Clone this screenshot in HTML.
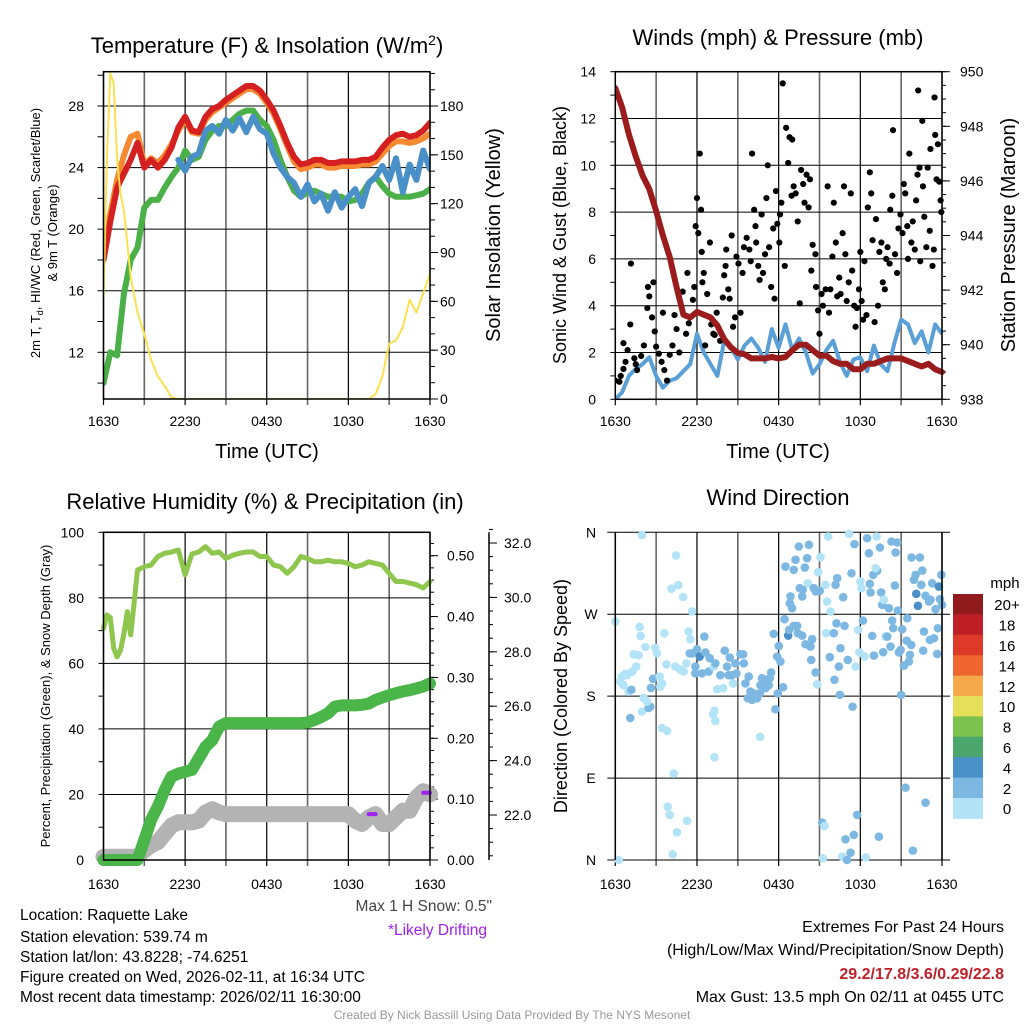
<!DOCTYPE html>
<html><head><meta charset="utf-8"><style>
html,body{margin:0;padding:0;background:#fff;}
svg{display:block;font-family:"Liberation Sans",Arial,sans-serif;}
</style></head><body>
<svg id="root" width="1024" height="1024" viewBox="0 0 1024 1024" xmlns="http://www.w3.org/2000/svg">
<g id="p1"></g>
<g id="p2"></g>
<g id="p3"></g>
<g id="p4"></g>
<g id="txt">
<text x="20" y="920" font-size="15.5">Location: Raquette Lake</text>
<text x="20" y="942" font-size="15.5">Station elevation: 539.74 m</text>
<text x="20" y="962" font-size="15.5">Station lat/lon: 43.8228; -74.6251</text>
<text x="20" y="982" font-size="15.5">Figure created on Wed, 2026-02-11, at 16:34 UTC</text>
<text x="20" y="1002" font-size="15.5">Most recent data timestamp: 2026/02/11 16:30:00</text>
<text x="492" y="911" font-size="15.5" fill="#444" text-anchor="end">Max 1 H Snow: 0.5"</text>
<text x="487" y="935" font-size="15.5" fill="#a020f0" text-anchor="end">*Likely Drifting</text>
<text x="1004" y="932" font-size="16" text-anchor="end">Extremes For Past 24 Hours</text>
<text x="1004" y="955" font-size="16" text-anchor="end">(High/Low/Max Wind/Precipitation/Snow Depth)</text>
<text x="1004" y="979" font-size="16" font-weight="bold" fill="#c0202a" text-anchor="end">29.2/17.8/3.6/0.29/22.8</text>
<text x="1004" y="1002" font-size="16" text-anchor="end">Max Gust: 13.5 mph On 02/11 at 0455 UTC</text>
<text x="512" y="1019" font-size="12" fill="#999" text-anchor="middle">Created By Nick Bassill Using Data Provided By The NYS Mesonet</text>
</g>
</svg>
<script>
// ---------- DATA ----------
const timeLabels = ["1630","2230","0430","1030","1630"];
const halfHours = [0,0.5,1,1.5,2,2.5,3,3.5,4,4.5,5,5.5,6,6.5,7,7.5,8,8.5,9,9.5,10,10.5,11,11.5,12,12.5,13,13.5,14,14.5,15,15.5,16,16.5,17,17.5,18,18.5,19,19.5,20,20.5,21,21.5,22,22.5,23,23.5,24];
const temp2m = [18,20.5,22.7,23.6,24.5,25.6,24,24.5,24,24.5,25.3,26.6,27.3,26.4,26.3,27.3,27.8,28,28.4,28.7,29,29.3,29.3,29,28.4,27.7,26.7,25.6,24.7,24.2,24.3,24.5,24.5,24.3,24.3,24.4,24.4,24.4,24.5,24.5,24.7,25.3,25.8,26.1,26.2,26,26.1,26.4,26.9];
const temp9m = [18.3,21,23.2,24.8,26,26.2,24.2,24.6,24.3,24.8,25.5,26.4,27.1,26.3,26.2,27.1,27.6,27.9,28.2,28.5,28.8,29.1,29.1,28.8,28.2,27.5,26.5,25.4,24.4,23.9,24,24.2,24.2,24,24,24.1,24.1,24.1,24.2,24.2,24.4,24.9,25.4,25.7,25.7,25.6,25.7,25.9,26.2];
const dewpoint = [10,12,11.8,15.8,18,18.8,21.4,21.9,21.9,22.7,23.4,24,25.1,24.5,24.7,25.8,26.4,26.7,26.7,27.1,27.5,27.7,27.7,27.1,26.7,25.8,24.5,23.4,22.5,22.1,22.4,22.5,22.3,22.1,22.1,22.1,21.8,21.9,22.3,23,23.4,22.8,22.3,22.1,22.1,22.1,22.2,22.3,22.6];
const windChill = [null,null,null,null,null,24,null,null,null,null,null,24.5,23.8,24.7,24.9,26.4,26.7,26.2,27.1,26.4,27.2,26.3,27.3,26.5,26.2,24.9,24,23.4,23,22.1,22.9,21.8,22.3,21.2,22.4,21.4,22.1,22.6,21.5,23,23.4,24.1,23.2,24.6,22.4,24.2,23.2,25.1,23.9];
const solarT = [0,0.25,0.5,0.75,1,1.25,1.5,2,2.5,3,3.5,4,4.5,5,5.5,19.5,20,20.5,21,21.5,22,22.5,23,23.5,24];
const solarV = [61,147,200,194,147,126,116,75,53,40,24,14,8,1,0,0,3,14,34,36,44,61,53,65,77];

const pressure = [949.4,948.7,947.7,946.9,946.2,945.7,944.9,944.0,943.2,942.1,941.1,941.0,941.2,941.1,941.0,940.7,940.2,939.9,939.7,939.65,939.5,939.5,939.5,939.55,939.5,939.55,939.8,940.0,940.0,939.8,939.6,939.6,939.4,939.3,939.3,939.1,939.1,939.3,939.3,939.4,939.5,939.5,939.5,939.4,939.3,939.2,939.3,939.1,939.0];
const sonicWind = [0,0.3,1,1.3,1.5,1.8,1,0.5,0.8,0.9,1.2,1.5,2.8,2.0,1.5,1,2.5,2.2,1.7,2.3,2.6,2.2,1.6,3,2.2,3.2,2.1,2.6,2.0,1.1,1.5,2.1,2.5,1.6,1.0,1.7,1.8,1.2,2.3,1.5,1.2,2.4,3.4,3.2,2.4,2.9,2.0,3.2,2.8];
const gustT = [0,0.3,0.4,0.6,0.6,0.75,0.9,1.1,1.15,1.4,1.5,1.6,1.9,2.1,2.35,2.4,2.5,2.7,2.8,2.9,3,3.2,3.4,3.5,3.6,3.8,4,4.2,4.35,4.5,4.7,4.95,5.2,5.3,5.4,5.7,5.8,5.9,6,6.1,6.2,6.3,6.35,6.4,6.5,6.6,6.75,6.95,7.05,7.2,7.3,7.45,7.7,7.9,8,8.1,8.15,8.3,8.4,8.55,8.65,8.8,8.9,9.05,9.2,9.35,9.45,9.65,9.85,9.95,10.05,10.2,10.3,10.35,10.5,10.6,10.75,10.85,11,11.1,11.2,11.3,11.45,11.6,11.7,11.8,11.9,12.05,12.1,12.2,12.3,12.45,12.55,12.7,12.8,12.95,13,13.1,13.25,13.4,13.55,13.65,13.8,13.9,14.05,14.2,14.3,14.4,14.5,14.7,14.75,14.9,15,15.15,15.25,15.45,15.6,15.7,15.8,15.95,16.05,16.2,16.3,16.45,16.55,16.7,16.8,16.9,17,17.15,17.3,17.4,17.55,17.65,17.75,17.9,18,18.1,18.2,18.3,18.45,18.55,18.7,18.8,18.9,19.05,19.15,19.3,19.4,19.55,19.65,19.8,19.9,20,20.15,20.2,20.35,20.4,20.55,20.7,20.8,20.95,21.1,21.2,21.3,21.45,21.5,21.6,21.75,21.85,22,22.1,22.2,22.25,22.35,22.4,22.55,22.6,22.7,22.85,22.95,23.1,23.15,23.3,23.4,23.45,23.5,23.6,23.7,23.8,23.9,23.95];
const gustV = [0.8,0.75,1.0,1.3,2.4,1.6,2.1,3.2,5.8,1.75,1.5,1.25,1.85,2.3,3.9,4.8,4.4,3.5,5.0,2.9,2.25,1.95,1.6,3.7,1.25,0.8,1.9,2.3,3.6,3.0,2.0,4.6,2.8,5.4,3.25,4.25,4.8,7.4,8.6,7.1,10.5,8.1,6.3,5.0,5.4,2.3,4.5,6.7,3.2,2.8,2.75,3.7,2.5,4.35,5.3,5.7,6.4,4.7,4.3,7.0,3.1,3.5,6.1,5.8,3.7,5.4,6.5,6.9,6.4,5.9,10.5,8.1,7.4,6.7,5.7,5.1,7.9,5.4,6.2,8.6,10.0,6.5,4.8,7.3,4.3,8.9,7.5,6.7,7.9,8.4,13.5,5.7,11.6,10.1,11.2,8.7,11.1,9.1,8.8,7.6,4.1,9.8,9.2,8.4,9.6,8.2,9.4,5.5,6.6,6.2,4.8,3.8,2.8,4.5,4.0,4.7,9.1,3.7,4.7,6.1,8.4,6.7,4.4,5.2,4.5,7.1,9.1,6.2,4.2,5.0,8.8,5.5,4.0,3.1,3.9,4.7,6.3,4.2,3.4,5.9,3.6,8.2,9.7,8.8,6.8,3.3,7.7,4.0,6.3,6.7,5.0,4.7,6.0,6.5,5.8,8.1,8.7,11.5,6.2,5.4,7.3,7.9,7.1,9.2,8.8,7.4,6.0,10.5,6.7,7.6,6.4,8.5,9.6,13.2,9.9,5.9,11.9,9.1,7.8,6.5,9.9,7.2,10.7,5.7,6.4,12.9,11.3,9.4,10.9,9.3,8.5,8.0];

const rhT = [0,0.25,0.5,0.75,1,1.25,1.5,1.75,2,2.25,2.5,3,3.5,4,4.5,5,5.5,6,6.5,7,7.5,8,8.5,9,9.5,10,10.5,11,11.5,12,12.5,13,13.5,14,14.5,15,15.5,16,16.5,17,17.5,18,18.5,19,19.5,20,20.5,21,21.5,22,22.5,23,23.5,24];
const rhV = [70.7,74.8,74,64.6,62,64,69,75.8,68.7,78.4,88.5,89.5,90,92.6,93.6,94,94.6,87,93.4,94,95.6,93.6,94,92,93,93.6,94,94,92.6,92.6,90,89.5,87.5,89.5,92.6,92,91,91,91.5,91,91,90.5,89.5,90,91,90.5,90,87.5,85,85,84.5,84,83,85];
const precip = [0,0,0,0,0,0,0.033,0.066,0.088,0.115,0.137,0.142,0.145,0.148,0.167,0.186,0.197,0.219,0.225,0.225,0.225,0.225,0.225,0.225,0.225,0.225,0.225,0.225,0.225,0.225,0.226,0.23,0.235,0.241,0.252,0.254,0.254,0.254,0.255,0.257,0.263,0.267,0.271,0.274,0.277,0.279,0.282,0.285,0.29];
const snowPct = [1,1,1,1,1,1,3,4.5,5.5,8,10.5,11.5,11.5,11.5,12,14.5,15.5,14.5,14,14,14,14,14,14,14,14,14,14,14,14,14,14,14,14,14,14,14,12,11,13,14,11,11,13,15,15,19,21,20];
const driftT = [[19.5,20],[23.5,24]];
const driftV = [[14,14],[20.5,20.5]];

const dirT = [0,1.96,4.46,4.12,4.63,4.98,5.64,1.79,1.86,2.21,1.35,1.72,1.54,0.74,0.49,0.86,1.23,0.37,0.61,0.98,1.18,1.10,1.96,2.45,2.57,2.08,2.33,2.62,2.77,2.94,3.06,3.26,3.43,3.31,3.60,3.75,3.43,3.80,4.29,3.85,4.0,4.53,5.27,4.22,0.25,4.41,4.78,5.02,5.22,5.39,5.51,5.47,5.64,5.88,5.88,6.0,6.2,6.54,6.37,6.62,6.94,6.86,7.23,7.35,7.48,7.92,7.72,8.04,8.21,8.41,8.33,8.58,8.65,8.82,8.90,9.19,9.39,9.44,9.56,9.80,9.93,10.17,9.73,10.05,10.42,10.61,10.66,10.78,11.03,11.15,11.27,11.35,11.45,11.64,11.89,12.01,12.13,11.94,11.76,12.33,7.28,7.18,7.35,7.28,10.64,12.43,12.5,12.87,12.82,12.99,12.70,12.77,13.11,13.24,13.48,14.09,14.22,13.92,13.55,13.73,13.77,13.11,13.36,13.41,13.73,13.97,14.34,14.46,14.39,14.71,14.83,14.14,14.58,14.73,15.02,14.9,15.07,15.44,15.56,15.81,15.64,15.49,16.05,15.76,16.25,16.3,16.18,16.54,16.42,16.1,16.5,16.74,16.84,17.08,17.35,17.43,17.18,17.57,17.65,17.84,18.01,17.94,18.09,18.19,18.31,18.5,18.63,18.7,18.75,18.95,19.24,19.12,19.19,19.44,19.53,19.61,19.73,19.85,19.98,20.1,20.22,19.68,19.0,18.87,20.29,20.59,20.71,20.54,20.76,20.34,20.42,20.83,20.96,21.08,21.2,21.45,21.4,21.57,21.64,21.74,21.76,21.94,22.06,22.11,22.23,22.38,22.48,22.55,22.67,22.62,22.79,23.04,23.16,23.28,23.53,23.7,23.65,23.77,23.85,23.95,24,23.41,23.11,21.0,21.32,22.79,21.86,15.2,15.37,15.25,16.67,17.03,16.91,17.28,17.52,17.77,18.4,19.36];
const dirDeg = [262,357,334.5,298,302,289,273,256,246,234,226,225,212.5,204.5,201.5,203,207,196,192,185,187,156,163,167,168.5,178,174,189,199,233,227,201.5,194,190.5,249,215,145,142,95,58.6,49.5,30.4,43,6.2,0,212.5,209,207,216,251,242.5,227,227,212.5,205,231.5,223.5,245.5,205,228,221.7,207,212.5,216,187.6,188.7,203,230,212.5,222.4,203,203,194,216,205,226,226,216,194,201.5,185,183,177.7,176,177.7,183,192,199.7,188.7,196,192,199.7,206,248.4,223.5,235,218,183,165.6,189.8,164,160,152.8,112.9,135.2,264.5,322.4,289.5,282,276.6,246.6,252.8,318.8,329.8,344.4,331.6,346.2,321.3,298.6,289.5,296.8,257.2,257.2,249.2,246.6,237,234.5,242.6,219.8,206,193,304,298.6,295,295.7,316.2,332.7,302.3,284,273,355.4,249.2,249.2,222.8,260,309.6,302.3,232.7,212.5,197.9,181.4,288.7,257.2,219.8,315,168.5,358.3,347,212.5,252.8,306,228,298.6,263,223.5,353.6,337,303.4,293.9,313.3,317.7,320.6,355.4,343.3,293.9,280.3,285.8,245.5,245.5,276.6,234.5,228.3,224.6,246.2,349.9,337.8,348.8,301.5,274,263,254.6,228,230.8,253.5,213.6,265.6,241,218,225.3,236.3,332.3,307.8,313.3,292.4,279.2,332.3,302.3,318,251,230,290.2,284,285.8,304,275.5,254.6,226.4,300.4,286.5,313.3,280.3,243.6,241.8,181.4,79.5,63,10.3,41,37.4,1.8,3.7,0,22.7,8,27.5,49.5,2.9,25.6];
const dirSpeed = [1,1,1,1,1,1,1,1,1,1,1,1,1,1,1,1,1,1,1,1,3,3,1,3,3,1,1,3,3,1,1,1,1,1,1,1,1,1,1,1,1,1,1,1,1,1,1,1,1,1,1,3,3,3,3,3,5,3,3,3,3,3,1,3,1,1,3,3,3,3,3,3,1,3,3,3,3,3,3,3,3,3,3,3,3,3,3,3,3,3,3,3,3,3,3,3,3,3,3,3,1,1,1,1,1,3,3,3,3,3,5,3,3,3,3,3,3,3,3,3,3,3,3,3,3,3,3,3,3,3,1,1,3,3,3,1,1,1,1,1,1,1,3,3,3,3,3,3,3,3,3,3,3,3,3,3,1,3,1,1,1,1,1,3,1,3,3,3,3,3,3,1,1,3,3,3,1,1,3,3,3,3,3,3,3,3,3,3,3,3,3,3,3,3,3,3,3,3,3,3,3,3,3,5,5,3,3,3,3,3,3,3,3,3,3,3,3,5,3,3,3,3,3,3,3,3,3,3,1,1,1,3,3,3,3,3,1,3,3];
const cbLabels = ["20+","18","16","14","12","10","8","6","4","2","0"];
const cbColors = ["#911a1c","#bf1e27","#dd3a2a","#ef6530","#f6a84a","#e6df5a","#7bc14e","#4aa66b","#4a90c8","#7db8e3","#b3e3f7"];

// ---------- HELPERS ----------
const NS="http://www.w3.org/2000/svg";
function mk(parent,tag,attrs){const e=document.createElementNS(NS,tag);for(const k in attrs)e.setAttribute(k,attrs[k]);parent.appendChild(e);return e;}
function txt(parent,x,y,s,size,anchor,extra){const t=mk(parent,"text",Object.assign({x:x,y:y,"font-size":size,"text-anchor":anchor||"start"},extra||{}));t.textContent=s;return t;}
function lin(d0,d1,r0,r1){return v=>r0+(v-d0)*(r1-r0)/(d1-d0);}
function pathD(xs,ys,fx,fy){let d="",pen=false;for(let i=0;i<xs.length;i++){if(ys[i]===null){pen=false;continue;}d+=(pen?"L":"M")+fx(xs[i]).toFixed(1)+","+fy(ys[i]).toFixed(1);pen=true;}return d;}
function frameAndTime(g,x0,x1,y0,y1,labY){
  const fx=lin(0,24,x0,x1);
  for(let h=0;h<=24;h+=3){
    const gl=mk(g,"line",{x1:fx(h),x2:fx(h),y1:y0,y2:y1+6,stroke:(h%6===0)?"#000":"#666","stroke-width":(h%6===0)?1.2:1.6});
    
    
  }
  timeLabels.forEach((s,i)=>{const t=txt(g,fx(i*6),labY,s,14,"middle");
    
    });
  return fx;
}
function hgrid(g,x0,x1,y){const l=mk(g,"line",{x1:x0,x2:x1,y1:y,y2:y,stroke:"#000","stroke-width":1});
  
  }
function frame(g,x0,x1,y0,y1){const r=mk(g,"rect",{x:x0,y:y0,width:x1-x0,height:y1-y0,fill:"none",stroke:"#000","stroke-width":1.5});
  
  }
function vtitle(g,x,y,s,size,name){const t=txt(g,x,y,s,size,"middle",{transform:`rotate(-90 ${x} ${y})`});
  
  return t;}
function ticksLeft(g,x,vals,fy,len){vals.forEach(v=>mk(g,"line",{x1:x,x2:x-len,y1:fy(v),y2:fy(v),stroke:"#000","stroke-width":1}));}
function ticksRight(g,x,vals,fy,len){vals.forEach(v=>mk(g,"line",{x1:x,x2:x+len,y1:fy(v),y2:fy(v),stroke:"#000","stroke-width":1}));}
function range(a,b,s){const r=[];for(let v=a;v<=b+1e-9;v+=s)r.push(+v.toFixed(4));return r;}

// ---------- PANEL 1 ----------
(function(){
  const g=document.getElementById("p1");
  const X0=103.5,X1=430,Y0=71.7,Y1=399;
  const fy=lin(12,28,352.3,106), fs=lin(0,180,399,106);
  const fx=frameAndTime(g,X0,X1,Y0,Y1,426);
  [12,16,20,24,28].forEach(v=>{hgrid(g,X0,X1,fy(v));const t=txt(g,84,fy(v)+5,String(v),14,"end");
    
    });
  ticksLeft(g,X0,range(10,30,2),fy,6);
  ticksRight(g,X1,range(0,200,10),fs,5);
  ticksRight(g,X1,range(0,180,30),fs,8);
  range(0,180,30).forEach(v=>{const t=txt(g,440,fs(v)+5,String(v),14,"start");
    
    });
  const clip=mk(g,"clipPath",{id:"c1"});mk(clip,"rect",{x:X0,y:Y0,width:X1-X0,height:Y1-Y0});
  const pg=mk(g,"g",{"clip-path":"url(#c1)"});
  const s1=mk(pg,"path",{d:pathD(halfHours,temp9m,fx,fy),fill:"none",stroke:"#f58a32","stroke-width":6,"stroke-linejoin":"round","stroke-linecap":"round"});
  
  
  const s2=mk(pg,"path",{d:pathD(halfHours,dewpoint,fx,fy),fill:"none",stroke:"#4bb047","stroke-width":6,"stroke-linejoin":"round","stroke-linecap":"round"});
  
  
  const s3=mk(pg,"path",{d:pathD(halfHours,windChill,fx,fy),fill:"none",stroke:"#4a90c8","stroke-width":6,"stroke-linejoin":"round","stroke-linecap":"round"});
  
  
  const s4=mk(pg,"path",{d:pathD(halfHours,temp2m,fx,fy),fill:"none",stroke:"#d42020","stroke-width":6,"stroke-linejoin":"round","stroke-linecap":"round"});
  
  
  const s5=mk(pg,"path",{d:pathD(solarT,solarV,fx,fs),fill:"none",stroke:"#fbe14f","stroke-width":2,"stroke-linejoin":"round"});
  
  
  frame(g,X0,X1,Y0,Y1);
  const tt=mk(g,"text",{x:267,y:53,"font-size":22,"text-anchor":"middle"});
  tt.innerHTML='Temperature (F) &amp; Insolation (W/m<tspan dy="-8" font-size="14">2</tspan><tspan dy="8">)</tspan>';
  
  
  const a=mk(g,"text",{x:40,y:233,"font-size":13,"text-anchor":"middle",transform:"rotate(-90 40 233)"});
  a.innerHTML='2m T, T<tspan dy="3" font-size="9">d</tspan><tspan dy="-3">, HI/WC (Red, Green, Scarlet/Blue)</tspan>';
  
  
  vtitle(g,57,233,"& 9m T (Orange)",13,"temp-axis-title-2");
  vtitle(g,500,235,"Solar Insolation (Yellow)",20,"solar-axis-title");
  const xt=txt(g,267,458,"Time (UTC)",20,"middle");
  
  
})();

// ---------- PANEL 2 ----------
(function(){
  const g=document.getElementById("p2");
  const X0=615.3,X1=942,Y0=71.7,Y1=399.3;
  const fy=lin(0,14,399.3,71.7), fp=lin(938,950,399.3,71.7);
  const fx=frameAndTime(g,X0,X1,Y0,Y1,426);
  range(0,14,2).forEach(v=>{hgrid(g,X0,X1,fy(v));const t=txt(g,596,fy(v)+5,String(v),14,"end");
    
    });
  ticksLeft(g,X0,range(0,14,1),fy,5);
  ticksRight(g,X1,range(938,950,0.5),fp,4);
  ticksRight(g,X1,range(938,950,2),fp,8);
  range(938,950,2).forEach(v=>{const t=txt(g,960,fp(v)+5,String(v),14,"start");
    
    });
  const clip=mk(g,"clipPath",{id:"c2"});mk(clip,"rect",{x:X0,y:Y0-3,width:X1-X0+3,height:Y1-Y0+3});
  const pg=mk(g,"g",{"clip-path":"url(#c2)"});
  const w=mk(pg,"path",{d:pathD(halfHours,sonicWind,fx,fy),fill:"none",stroke:"#5a9fd6","stroke-width":4,"stroke-linejoin":"round"});
  
  
  gustT.forEach((t,i)=>{const c=mk(pg,"circle",{cx:fx(t),cy:fy(gustV[i]),r:3.1,fill:"#000"});
    
    });
  const p=mk(pg,"path",{d:pathD(halfHours,pressure,fx,fp),fill:"none",stroke:"#9b1c1c","stroke-width":6,"stroke-linejoin":"round","stroke-linecap":"round"});
  
  
  frame(g,X0,X1,Y0,Y1);
  const tt=txt(g,778,45,"Winds (mph) & Pressure (mb)",22,"middle");
  
  
  vtitle(g,566,235,"Sonic Wind & Gust (Blue, Black)",18,"wind-axis-title");
  vtitle(g,1015,235,"Station Pressure (Maroon)",20,"pressure-axis-title");
  const xt=txt(g,778,458,"Time (UTC)",20,"middle");
  
  
})();

// ---------- PANEL 3 ----------
(function(){
  const g=document.getElementById("p3");
  const X0=103.5,X1=430,Y0=532.3,Y1=860;
  const fy=lin(0,100,860,532.3), fpr=lin(0,0.5,860,555.7), fsn=lin(22,32,815,543);
  const fx=frameAndTime(g,X0,X1,Y0,Y1,889);
  range(0,100,20).forEach(v=>{hgrid(g,X0,X1,fy(v));const t=txt(g,84,fy(v)+5,String(v),14,"end");
    
    });
  ticksLeft(g,X0,range(0,100,10),fy,5);
  ticksRight(g,X1,range(0,0.53,0.02),fpr,4);
  ticksRight(g,X1,range(0,0.5,0.1),fpr,8);
  range(0,0.5,0.1).forEach(v=>{const t=txt(g,447,fpr(v)+5,v.toFixed(2),14,"start");
    
    });
  const sa=mk(g,"line",{x1:489,x2:489,y1:Y0,y2:Y1,stroke:"#000","stroke-width":1.5});
  
  
  ticksRight(g,489,range(20.5,32.5,0.5),fsn,4);
  ticksRight(g,489,range(22,32,2),fsn,8);
  range(22,32,2).forEach(v=>{const t=txt(g,504,fsn(v)+5,v.toFixed(1),14,"start");
    
    });
  const pg=mk(g,"g",{});
  const sn=mk(pg,"path",{d:pathD(halfHours,snowPct,fx,fy),fill:"none",stroke:"#b3b3b3","stroke-width":16,"stroke-linejoin":"round","stroke-linecap":"round"});
  
  
  driftT.forEach((seg,i)=>{const d=mk(pg,"path",{d:pathD(seg,driftV[i],fx,fy),fill:"none",stroke:"#a020f0","stroke-width":4,"stroke-linecap":"round"});
    
    });
  const pr=mk(pg,"path",{d:pathD(halfHours,precip,fx,fpr),fill:"none",stroke:"#4ab548","stroke-width":12,"stroke-linejoin":"round","stroke-linecap":"round"});
  
  
  const rh=mk(pg,"path",{d:pathD(rhT,rhV,fx,fy),fill:"none",stroke:"#8ec64e","stroke-width":5,"stroke-linejoin":"round","stroke-linecap":"round"});
  
  
  frame(g,X0,X1,Y0,Y1);
  const tt=txt(g,265,509,"Relative Humidity (%) & Precipitation (in)",22,"middle");
  
  
  vtitle(g,50,696,"Percent, Precipitation (Green), & Snow Depth (Gray)",13,"humidity-axis-title");
})();

// ---------- PANEL 4 ----------
(function(){
  const g=document.getElementById("p4");
  const X0=615.3,X1=942,Y0=532.3,Y1=860;
  const fy=lin(0,360,860,532.3);
  const fx=frameAndTime(g,X0,X1,Y0,Y1,889);
  const dl=["N","E","S","W","N"];
  [0,90,180,270,360].forEach((v,i)=>{hgrid(g,X0-8,X1+8,fy(v));const t=txt(g,591,fy(v)+5,dl[i],14,"middle");
    
    });
  const colOf=s=>s>=4?"#4a8fc6":(s>=2?"#7db8e3":"#b3e3f7");
  dirT.forEach((t,i)=>{const c=mk(g,"circle",{cx:fx(t),cy:fy(dirDeg[i]),r:4.3,fill:colOf(dirSpeed[i])});
    
    });
  const fl=mk(g,"line",{x1:X0,x2:X0,y1:Y0,y2:Y1,stroke:"#000","stroke-width":1.5});
  
  
  const fr=mk(g,"line",{x1:X1,x2:X1,y1:Y0,y2:Y1,stroke:"#000","stroke-width":1.5});
  
  
  const tt=txt(g,778,505,"Wind Direction",22,"middle");
  
  
  vtitle(g,567,696,"Direction (Colored By Speed)",18,"direction-axis-title");
  const cb=mk(g,"g",{});
  
  
  const cy0=594, bh=20.4;
  cbColors.forEach((c,i)=>{const r=mk(cb,"rect",{x:953,y:cy0+i*bh,width:30,height:bh+0.5,fill:c});
    
    });
  cbLabels.forEach((s,i)=>{const t=txt(cb,1007,cy0+i*bh+bh/2+6,s,15,"middle");
    
    });
  const u=txt(cb,1005,588,"mph",15,"middle");
  
  
})();
</script>
</body></html>
